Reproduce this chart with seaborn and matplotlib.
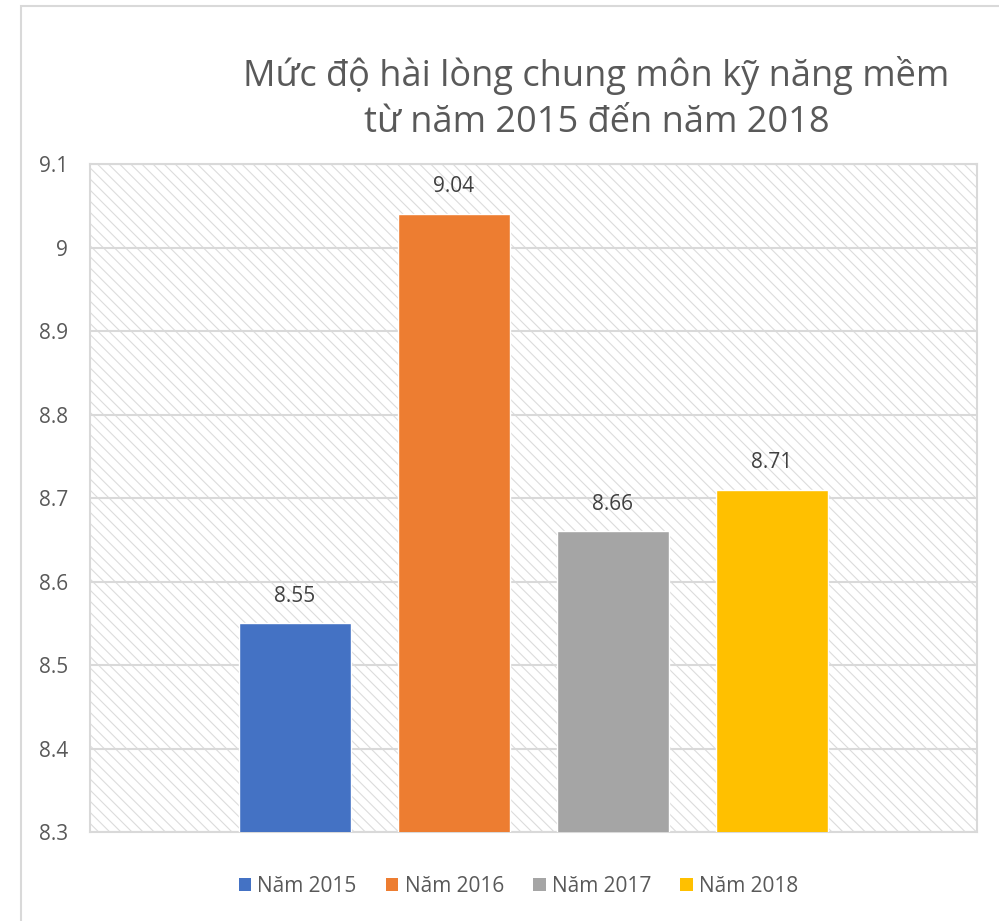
import seaborn as sns
import matplotlib.pyplot as plt
from matplotlib.patches import Rectangle, Patch

years = ['Năm 2015', 'Năm 2016', 'Năm 2017', 'Năm 2018']
scores = [8.55, 9.04, 8.66, 8.71]
colors = ['#4472C4', '#ED7D31', '#A5A5A5', '#FFC000']
yticks = [8.3, 8.4, 8.5, 8.6, 8.7, 8.8, 8.9, 9.0, 9.1]
title = 'Mức độ hài lòng chung môn kỹ năng mềm\ntừ năm 2015 đến năm 2018'

sns.set_theme(style='white')
plt.rcParams['font.family'] = ['Open Sans', 'DejaVu Sans']
plt.rcParams['hatch.linewidth'] = 0.8
txt = '#595959'
grid = '#d9d9d9'

fig = plt.figure(figsize=(9.99, 9.21), dpi=100)
ax = fig.add_axes([0.0901, 0.0966, 0.8879, 0.7253])

# hatched plot area background
ax.add_patch(Rectangle((0, 0), 1, 1, transform=ax.transAxes, facecolor='white',
                       edgecolor='#dcdcdc', hatch='\\\\\\', linewidth=0, zorder=0))

sns.barplot(x=years, y=scores, hue=years, palette=colors, width=0.7,
            saturation=1, legend=False, ax=ax, zorder=3)
for c in ax.containers:
    ax.bar_label(c, fmt='%.2f', padding=12, fontsize=15, color='#404040')

ax.set_ylim(8.3, 9.1)
ax.set_yticks(yticks)
ax.set_yticklabels(['8.3', '8.4', '8.5', '8.6', '8.7', '8.8', '8.9', '9', '9.1'])
ax.set_xlim(-1.29, 4.29)
ax.set_xticks([])
ax.set_xlabel('')
ax.set_ylabel('')
ax.tick_params(axis='y', length=0, pad=16, labelsize=15, labelcolor=txt)
ax.yaxis.grid(True, color=grid, linewidth=1.5, zorder=1)
ax.set_axisbelow(True)
for s in ax.spines.values():
    s.set_color(grid)
    s.set_linewidth(1.5)

fig.text(0.597, 0.893, title, ha='center', va='center', fontsize=26,
         color=txt, linespacing=1.35)

handles = [Patch(facecolor=c, edgecolor='none') for c in colors]
fig.legend(handles, years, loc='center', bbox_to_anchor=(0.519, 0.038),
           ncol=4, frameon=False, fontsize=15, labelcolor=txt,
           handlelength=0.6, handleheight=0.6, handletextpad=0.3,
           columnspacing=1.4)

# outer chart border
fig.patches.append(Rectangle((0.021, -0.1), 1.5, 1.0935, transform=fig.transFigure,
                             fill=False, edgecolor=grid, linewidth=1.5))

fig.savefig('out.png', dpi=100)
